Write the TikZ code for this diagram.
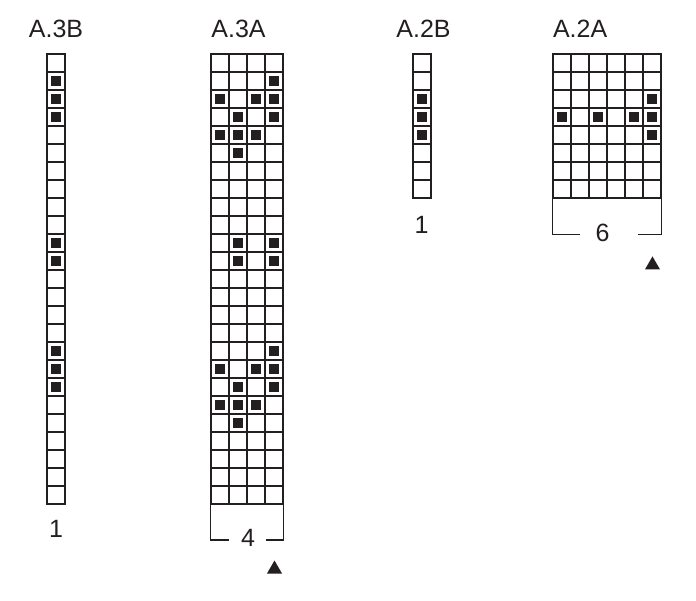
\documentclass[tikz,border=0pt]{standalone}
\usepackage{fontspec}
\setmainfont{Liberation Sans}
\usetikzlibrary{shapes}
\definecolor{ink}{HTML}{231F20}

\begin{document}
\begin{tikzpicture} [x=1pt, y=-1pt,
                     cell/.style= {shape=rectangle, minimum size=18pt,
                                   draw=ink, line width=1.3pt,
                                   inner sep=0},
                     dot/.style= {shape=rectangle, minimum size=9.5pt,
                                  fill=ink, inner sep=0},
                     tri/.style= {shape=regular polygon, regular polygon sides=3,
                                  minimum size=17.4pt, fill=ink, inner sep=0},
                     lbl/.style= {font=\fontsize{25}{29}\selectfont, text=ink,
                                  inner sep=0},
                     brk/.style= {draw=ink, line width=1.3pt}]
\useasboundingbox (0,0) rectangle (696,600);

% titles
\node[lbl] (t3b) at (56,28.5) {A.3B};
\node[lbl, anchor=west] (t3a) at (211.2,28.5) {A.3A};
\node[lbl] (t2b) at (423.5,28.5) {A.2B};
\node[lbl, anchor=west] (t2a) at (552.8,28.5) {A.2A};

% A.3B
\foreach \i in {1,...,25}{\node[cell] (b3;\i) at (56,{54+(\i-0.5)*18}) {};}
\foreach \i in {2,3,4,11,12,17,18,19}{\node[dot] at (b3;\i) {};}
\node[lbl] (n3b) at (56,529) {1};

% A.3A
\foreach \j in {1,...,4}{%
    \foreach \i in {1,...,25}{\node[cell] (a3\j;\i) at ({211+(\j-0.5)*18},{54+(\i-0.5)*18}) {};}}
\foreach \j/\i in {4/2,1/3,3/3,4/3,2/4,4/4,1/5,2/5,3/5,2/6,
                   2/11,4/11,2/12,4/12,
                   4/17,1/18,3/18,4/18,2/19,4/19,1/20,2/20,3/20,2/21}{\node[dot] at (a3\j;\i) {};}
\coordinate (l4) at (229.3,540);
\coordinate (r4) at (265.7,540);
\draw[brk] (a31;25.south west) |- (l4);
\draw[brk] (a34;25.south east) |- (r4);
\node[lbl] (n4) at (248,538) {4};
\node[tri] (p4) at (274.5,569.2) {};

% A.2B
\foreach \i in {1,...,8}{\node[cell] (b2;\i) at (422,{54+(\i-0.5)*18}) {};}
\foreach \i in {3,4,5}{\node[dot] at (b2;\i) {};}
\node[lbl] (n2b) at (421.5,225) {1};

% A.2A
\foreach \j in {1,...,6}{%
    \foreach \i in {1,...,8}{\node[cell] (a2\j;\i) at ({553+(\j-0.5)*18},{54+(\i-0.5)*18}) {};}}
\foreach \j/\i in {6/3,1/4,3/4,5/4,6/4,6/5}{\node[dot] at (a2\j;\i) {};}
\coordinate (l6) at (580,234.5);
\coordinate (r6) at (638.3,234.5);
\draw[brk] (a21;8.south west) |- (l6);
\draw[brk] (a26;8.south east) |- (r6);
\node[lbl] (n6) at (602.5,232.5) {6};
\node[tri] (p6) at (652.5,265.1) {};
\end{tikzpicture}
\end{document}
